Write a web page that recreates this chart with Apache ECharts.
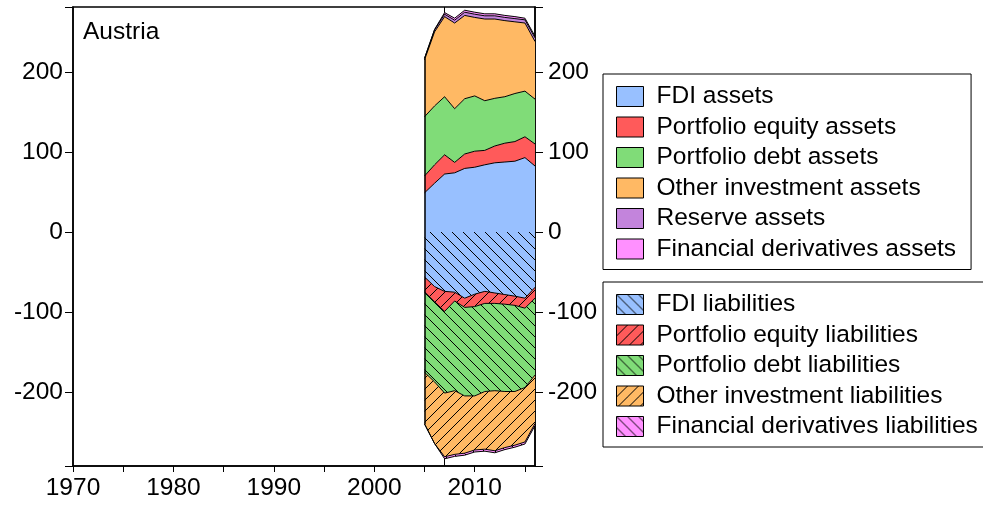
<!DOCTYPE html>
<html>
<head>
<meta charset="utf-8">
<script src="https://cdn.jsdelivr.net/npm/echarts@6/dist/echarts.min.js"></script>
<style>
  html, body { margin: 0; padding: 0; background: #fff; }
  #chart { width: 983px; height: 512px; }
</style>
</head>
<body>
<div id="chart"></div>
<script>
// years with data (rest of 1970-2016 is empty)
const years = [2005, 2006, 2007, 2008, 2009, 2010, 2011, 2012, 2013, 2014, 2015, 2016];

// assets, % of GDP
const fdiAssets = [49, 61, 72.5, 74, 79.5, 81, 84, 86.5, 87.5, 88.5, 93, 82.5];
const equityAssets = [21, 23, 24, 13, 18, 20, 18, 21, 23.5, 24.5, 26, 27.5];
const debtAssets = [74, 73.5, 72.5, 67, 69, 69, 62, 59.5, 58, 60, 57, 56];
const otherAssets = [71, 92.5, 100, 107, 104, 98, 102, 99, 95, 89.5, 85, 72];
const reserveAssets = [2, 2.5, 3, 3.5, 4, 4, 4, 4, 4, 4, 4, 4.5];
const derivAssets = [0, 0.5, 2, 2.5, 2.5, 2.5, 2.5, 2.5, 2.5, 2.5, 2, 2];

// liabilities, shown negative
const fdiLiab = [-56, -68, -74, -75, -82.5, -77.5, -74, -76, -78, -80, -82.5, -69];
const equityLiab = [-18.5, -19, -25, -11, -11.5, -15.5, -15, -13, -12, -11.5, -12.5, -13.5];
const debtLiab = [-100.5, -100, -102, -112, -110.5, -111.5, -110, -109, -109, -107.5, -99, -96];
const otherLiab = [-64.5, -77, -79.5, -79.5, -71.5, -67.5, -72, -75, -70, -67, -68, -60.5];
const derivLiab = [0, 0, -2.5, -2.5, -2.5, -2.5, -2.5, -2.5, -2.5, -2.5, -2.5, -2.5];

// x axis runs 1970..2016, one category per year
const axisYears = [];
for (let y = 1970; y <= 2016; y++) axisYears.push(String(y));

const FONT = 'Liberation Sans';
const FS = 24.5;

/* hatched fill: base colour plus thin black diagonal lines */
const hatch = (base, dir) => {
  const s = 11;
  const c = document.createElement('canvas');
  c.width = s; c.height = s;
  const ctx = c.getContext('2d');
  ctx.fillStyle = base;
  ctx.fillRect(0, 0, s, s);
  ctx.strokeStyle = '#000';
  ctx.lineWidth = 1;
  ctx.beginPath();
  for (const k of [-s, 0, s]) {
    if (dir === '\\') { ctx.moveTo(k - 1, -1); ctx.lineTo(k + s + 1, s + 1); }
    else { ctx.moveTo(k - 1, s + 1); ctx.lineTo(k + s + 1, -1); }
  }
  ctx.stroke();
  return { image: c, repeat: 'repeat' };
};

const colors = {
  fdi: '#98c0ff', equity: '#ff5a5a', debt: '#80dc78',
  other: '#ffb964', reserve: '#c384dc', deriv: '#ff90ff'
};

const assetDefs = [
  ['FDI assets', fdiAssets, colors.fdi],
  ['Portfolio equity assets', equityAssets, colors.equity],
  ['Portfolio debt assets', debtAssets, colors.debt],
  ['Other investment assets', otherAssets, colors.other],
  ['Reserve assets', reserveAssets, colors.reserve],
  ['Financial derivatives assets', derivAssets, colors.deriv]
];
const liabDefs = [
  ['FDI liabilities', fdiLiab, colors.fdi, '\\'],
  ['Portfolio equity liabilities', equityLiab, colors.equity, '/'],
  ['Portfolio debt liabilities', debtLiab, colors.debt, '\\'],
  ['Other investment liabilities', otherLiab, colors.other, '/'],
  ['Financial derivatives liabilities', derivLiab, colors.deriv, '\\']
];

const toAxis = vals => axisYears.map(y => {
  const i = years.indexOf(Number(y));
  return i < 0 ? null : vals[i];
});

const areaSeries = (name, vals, base, fill, stack) => ({
  name,
  type: 'line',
  stack,
  z: 2,
  color: base,
  showSymbol: false,
  symbol: 'none',
  data: toAxis(vals),
  lineStyle: { color: '#000', width: 1 },
  areaStyle: { color: fill, opacity: 1 },
  emphasis: { disabled: true }
});

const series = [];
assetDefs.forEach(([n, v, c]) => series.push(areaSeries(n, v, c, c, 'assets')));
const legendLiab = [];
liabDefs.forEach(([n, v, c, d]) => {
  const p = hatch(c, d);
  series.push(areaSeries(n, v, c, p, 'liab'));
  legendLiab.push({ name: n, itemStyle: { color: p } });
});

// vertical line at 2007 behind the areas
series.push({
  type: 'line', data: [], z: 1, silent: true,
  markLine: {
    z: 1,
    silent: true, symbol: 'none', label: { show: false },
    lineStyle: { color: '#000', width: 1, type: 'solid' },
    data: [{ xAxis: '2007' }]
  }
});
// left edge of the filled block
const topStart = assetDefs.reduce((s, d) => s + d[1][0], 0);
const bottomStart = liabDefs.reduce((s, d) => s + d[1][0], 0);
series.push({
  type: 'line', data: [], z: 3, silent: true,
  markLine: {
    z: 10,
    silent: true, symbol: 'none', label: { show: false },
    lineStyle: { color: '#000', width: 1.5, type: 'solid' },
    data: [[{ coord: [String(years[0]), bottomStart] }, { coord: [String(years[0]), topStart] }]]
  }
});

const legendBase = {
  orient: 'vertical',
  left: 603,
  icon: 'rect',
  itemWidth: 27,
  itemHeight: 20,
  itemGap: 5.5,
  padding: [10, 15, 8, 13],
  borderColor: '#000',
  borderWidth: 1,
  selectedMode: false,
  itemStyle: { borderColor: '#000', borderWidth: 1 },
  textStyle: { fontFamily: FONT, fontSize: FS, color: '#000', padding: [0, 0, 0, 8] }
};

const yAxisBase = {
  type: 'value',
  min: -292,
  max: 281,
  splitNumber: 5,
  splitLine: { show: false },
  axisLine: { show: true, lineStyle: { color: '#000', width: 1.5 } },
  axisTick: { show: true, length: 8, lineStyle: { color: '#000' } },
  axisLabel: {
    fontFamily: FONT, fontSize: FS, color: '#000',
    formatter: v => (v % 100 === 0 ? v : '')
  }
};

const chart = echarts.init(document.getElementById('chart'));
chart.setOption({
  animation: false,
  backgroundColor: '#fff',
  title: {
    text: 'Austria', left: 83, top: 20, padding: 0,
    textStyle: { fontFamily: FONT, fontSize: FS, fontWeight: 'normal', color: '#000' }
  },
  grid: {
    left: 73, right: 448, top: 7, bottom: 46,
    show: true, borderColor: '#000', borderWidth: 1.5
  },
  legend: [
    Object.assign({}, legendBase, { top: 74, data: assetDefs.map(d => d[0]) }),
    Object.assign({}, legendBase, { top: 282, data: legendLiab })
  ],
  xAxis: {
    type: 'category',
    data: axisYears,
    boundaryGap: false,
    splitLine: { show: false },
    axisLine: { onZero: false, lineStyle: { color: '#000', width: 1.5 } },
    axisTick: {
      length: 6, lineStyle: { color: '#000' },
      interval: (i, v) => Number(v) % 5 === 0
    },
    axisLabel: {
      fontFamily: FONT, fontSize: FS, color: '#000', margin: 10,
      interval: (i, v) => Number(v) % 10 === 0
    }
  },
  yAxis: [
    Object.assign({}, yAxisBase, { position: 'left', axisLabel: Object.assign({}, yAxisBase.axisLabel, { margin: 10 }) }),
    Object.assign({}, yAxisBase, { position: 'right', axisLabel: Object.assign({}, yAxisBase.axisLabel, { margin: 13 }) })
  ],
  series
});
</script>
</body>
</html>
